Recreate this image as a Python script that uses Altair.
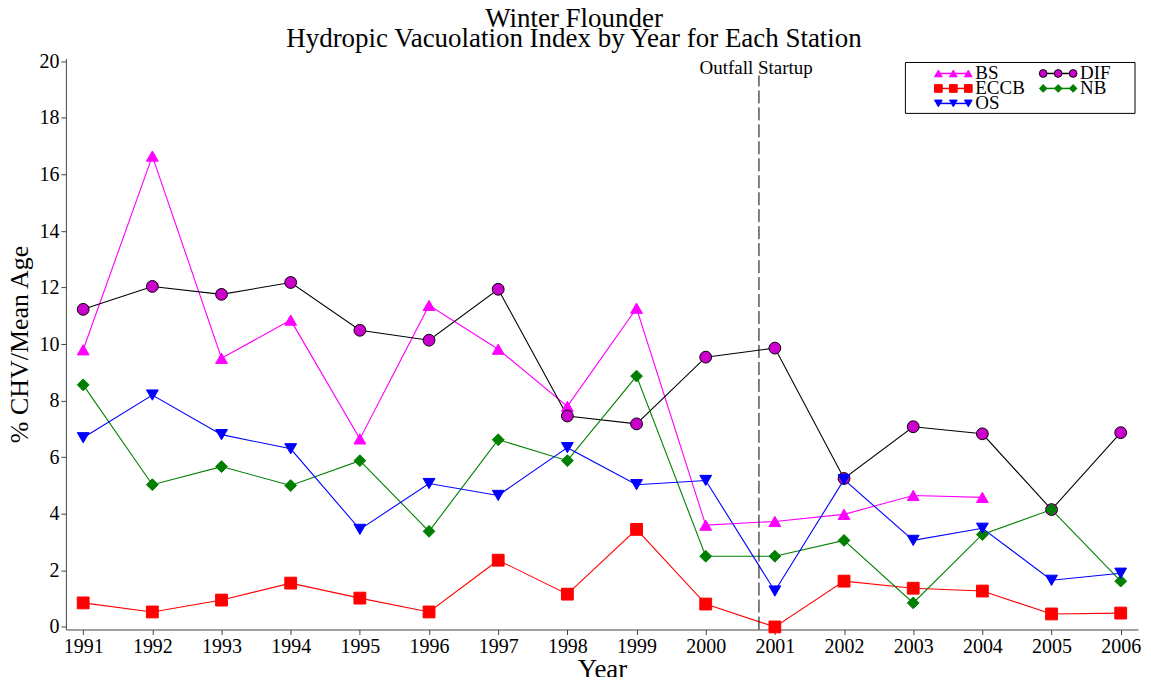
import altair as alt
import pandas as pd

years = list(range(1991, 2007))
stations = ["BS", "DIF", "ECCB", "NB", "OS"]

bs = [9.8, 16.65, 9.5, 10.85, 6.65, 11.37, 9.82, 7.8, 11.27, 3.6, 3.73, 3.98, 4.65, 4.58, None, None]
dif = [11.23, 12.04, 11.76, 12.18, 10.49, 10.14, 11.94, 7.46, 7.18, 9.54, 9.86, 5.25, 7.08, 6.83, 4.15, 6.87]
eccb = [0.85, 0.53, 0.95, 1.55, 1.02, 0.53, 2.36, 1.16, 3.45, 0.81, 0.0, 1.62, 1.37, 1.27, 0.46, 0.49]
nb = [8.56, 5.03, 5.67, 5.0, 5.88, 3.38, 6.62, 5.88, 8.87, 2.5, 2.5, 3.06, 0.85, 3.27, 4.15, 1.62]
os_ = [6.69, 8.2, 6.8, 6.3, 3.45, 5.07, 4.65, 6.34, 5.03, 5.18, 1.27, 5.21, 3.06, 3.49, 1.65, 1.9]

series = {"BS": bs, "DIF": dif, "ECCB": eccb, "NB": nb, "OS": os_}
rows = []
for s in stations:
    for y, v in zip(years, series[s]):
        if v is not None:
            rows.append({"station": s, "year": y, "value": v, "ord": stations.index(s)})
df = pd.DataFrame(rows)

line_colors = ["#FF00FF", "#000000", "#FF0000", "#008000", "#0000FF"]
fill_colors = ["#FF00FF", "#CC00CC", "#FF0000", "#008000", "#0000FF"]
stroke_colors = ["#FF00FF", "#000000", "#FF0000", "#008000", "#0000FF"]
shapes = ["triangle-up", "circle", "square", "diamond", "triangle-down"]

outfall_year = 2000.77

FONT = "Liberation Serif"

xs = alt.Scale(domain=[1990.75, 2006.25], nice=False, zero=False)
ys = alt.Scale(domain=[-0.09, 20.1], nice=False, zero=False)

color_sc = alt.Scale(domain=stations, range=line_colors)
fill_sc = alt.Scale(domain=stations, range=fill_colors)
stroke_sc = alt.Scale(domain=stations, range=stroke_colors)
shape_sc = alt.Scale(domain=stations, range=shapes)

base = alt.Chart(df)

lines = base.mark_line(strokeWidth=1.1).encode(
    x=alt.X("year:Q", scale=xs,
            axis=alt.Axis(values=years, format="d", title="Year", grid=False,
                          labelFontSize=20, titleFontSize=27, titleFontWeight="normal",
                          tickSize=5, labelPadding=2, titlePadding=0,
                          domainColor="#444", tickColor="#444", labelColor="#000",
                          titleColor="#000", labelFont=FONT, titleFont=FONT)),
    y=alt.Y("value:Q", scale=ys,
            axis=alt.Axis(values=list(range(0, 21, 2)), title="% CHV/Mean Age", grid=False,
                          labelFontSize=20, titleFontSize=26, titleFontWeight="normal",
                          tickSize=5, labelPadding=2, titlePadding=6,
                          domainColor="#444", tickColor="#444", labelColor="#000",
                          titleColor="#000", labelFont=FONT, titleFont=FONT)),
    color=alt.Color("station:N", scale=color_sc, legend=None),
    detail="station:N",
    order=alt.Order("year:Q"),
)

points = base.mark_point(filled=True, strokeWidth=1, size=140, opacity=1).encode(
    x=alt.X("year:Q", scale=xs),
    y=alt.Y("value:Q", scale=ys),
    fill=alt.Fill("station:N", scale=fill_sc, legend=None),
    stroke=alt.Stroke("station:N", scale=stroke_sc, legend=None),
    shape=alt.Shape("station:N", scale=shape_sc, legend=None),
    order=alt.Order("ord:Q"),
)

rule_df = pd.DataFrame({"x": [outfall_year], "y": [-0.09], "y2": [19.5]})
rule = alt.Chart(rule_df).mark_rule(color="#000", strokeWidth=1, strokeDash=[13, 4]).encode(
    x=alt.X("x:Q", scale=xs), y=alt.Y("y:Q", scale=ys), y2="y2:Q"
)
rule_text = alt.Chart(pd.DataFrame({"x": [outfall_year - 0.04], "y": [19.76], "t": ["Outfall Startup"]})).mark_text(
    font=FONT, fontSize=19, color="#000", align="center", baseline="middle"
).encode(x=alt.X("x:Q", scale=xs), y=alt.Y("y:Q", scale=ys), text="t:N")

# Titles
t1 = alt.Chart(pd.DataFrame({"t": ["Winter Flounder"]})).mark_text(
    font=FONT, fontSize=27, color="#000", align="center", baseline="middle"
).encode(x=alt.value(509), y=alt.value(-40), text="t:N")
t2 = alt.Chart(pd.DataFrame({"t": ["Hydropic Vacuolation Index by Year for Each Station"]})).mark_text(
    font=FONT, fontSize=27, color="#000", align="center", baseline="middle"
).encode(x=alt.value(509), y=alt.value(-20), text="t:N")

# Manual legend (pixel positions relative to plot area)
leg_col_x = {"BS": 874, "ECCB": 874, "OS": 874, "DIF": 979, "NB": 979}
leg_row_y = {"BS": 15, "ECCB": 30, "OS": 45, "DIF": 15, "NB": 30}
lrows = []
for s in ["BS", "ECCB", "OS", "DIF", "NB"]:
    for k in range(3):
        lrows.append({"station": s, "px": leg_col_x[s] + 15 * k, "py": leg_row_y[s], "k": k})
ldf = pd.DataFrame(lrows)
tdf = pd.DataFrame({"station": list(leg_col_x.keys()),
                    "px": [leg_col_x[s] + 37 for s in leg_col_x],
                    "py": [leg_row_y[s] for s in leg_col_x]})

leg_box = alt.Chart(pd.DataFrame({"a": [0]})).mark_rect(
    fill="white", stroke="#000", strokeWidth=1
).encode(x=alt.value(841), x2=alt.value(1071), y=alt.value(4), y2=alt.value(55))

leg_lines = alt.Chart(ldf).mark_line(strokeWidth=1.5).encode(
    x=alt.X("px:Q", scale=None), y=alt.Y("py:Q", scale=None),
    color=alt.Color("station:N", scale=color_sc, legend=None),
    detail="station:N", order="k:Q",
)
leg_pts = alt.Chart(ldf).mark_point(filled=True, strokeWidth=1, size=60, opacity=1).encode(
    x=alt.X("px:Q", scale=None), y=alt.Y("py:Q", scale=None),
    fill=alt.Fill("station:N", scale=fill_sc, legend=None),
    stroke=alt.Stroke("station:N", scale=stroke_sc, legend=None),
    shape=alt.Shape("station:N", scale=shape_sc, legend=None),
)
leg_text = alt.Chart(tdf).mark_text(
    font=FONT, fontSize=19, color="#000", align="left", baseline="middle"
).encode(x=alt.X("px:Q", scale=None), y=alt.Y("py:Q", scale=None), text="station:N")

chart = alt.layer(
    lines, points, rule, rule_text, t1, t2, leg_box, leg_lines, leg_pts, leg_text
).properties(
    width=1074, height=572,
    autosize=alt.AutoSizeParams(type="none"),
    padding={"left": 58, "top": 50, "right": 5, "bottom": 47},
    background="white",
).configure_view(stroke=None).configure_axis(labelFont=FONT, titleFont=FONT)

chart.save("out.html", embed_options={"renderer": "svg", "actions": False})
